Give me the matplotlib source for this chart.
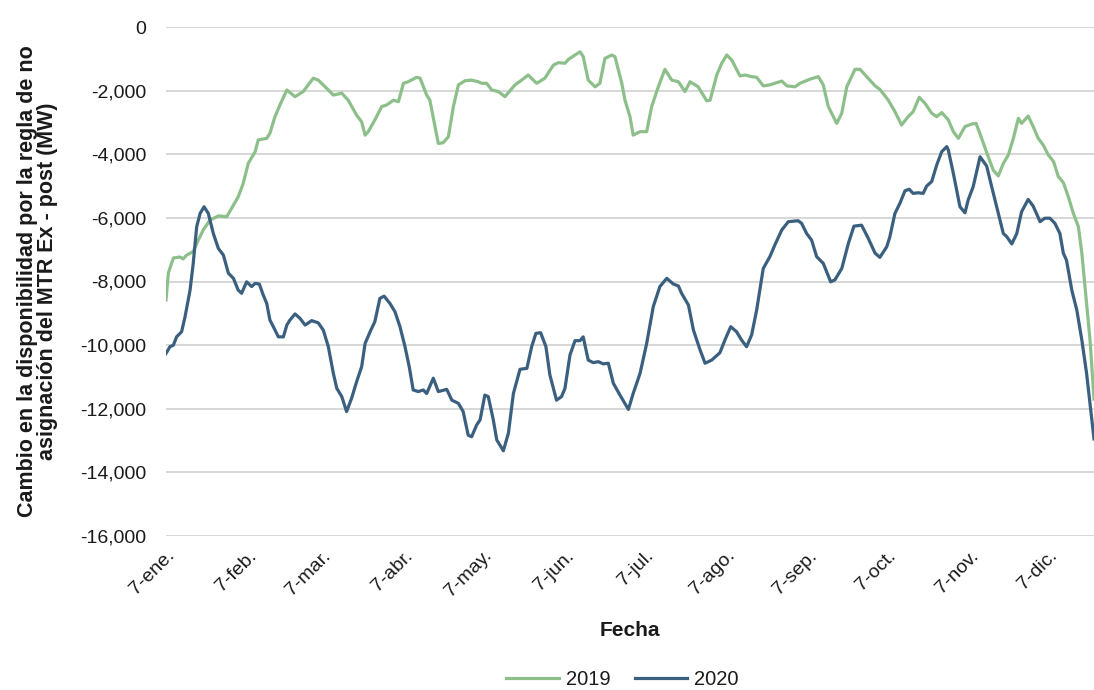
import matplotlib
matplotlib.use("Agg")
import matplotlib.pyplot as plt
from matplotlib.ticker import FuncFormatter, FixedLocator

# Days counted from 7 January
days_2019 = [0, 0.9, 2.8, 5.3, 6.5, 7.8, 10.3, 12.2, 14.1, 16.6, 19.8, 23.0, 24.8, 27.3,
             29.2, 31.1, 33.7, 34.9, 38.1, 39.3, 41.2, 43.1, 45.7, 48.8, 51.9, 55.7, 57.6,
             60.8, 63.3, 66.5, 68.9, 72.1, 74.0, 75.3, 76.5, 79.0, 81.6, 83.5, 86.0, 87.9,
             89.8, 91.6, 94.8, 96.1, 98.6, 99.8, 103.0, 104.8, 106.8, 108.7, 110.6, 113.1,
             115.6, 118.1, 119.4, 121.3, 123.2, 125.7, 128.2, 132.0, 134.5, 137.0, 140.2,
             143.3, 146.5, 148.4, 150.9, 152.2, 154.7, 156.6, 157.8, 159.7, 162.3, 164.1,
             166.0, 168.6, 169.8, 172.4, 173.6, 175.5, 176.7, 179.3, 181.8, 183.7, 186.2,
             188.7, 191.3, 193.8, 196.3, 198.2, 201.3, 204.5, 205.8, 208.3, 210.2, 212.1,
             214.0, 217.1, 219.0, 221.5, 223.4, 225.9, 228.4, 230.3, 232.9, 234.8, 237.9,
             239.8, 243.6, 246.7, 248.6, 250.5, 253.7, 255.6, 257.5, 260.6, 262.5, 265.0,
             268.2, 270.0, 273.2, 275.7, 278.2, 280.7, 282.6, 284.9, 287.1, 289.6, 291.5,
             293.4, 295.9, 297.8, 299.7, 302.2, 304.7, 306.4, 308.5, 311.0, 312.9, 314.8,
             316.7, 318.6, 320.5, 322.4, 323.6, 326.1, 328.0, 329.9, 331.8, 333.7, 335.7,
             337.5, 339.4, 341.3, 343.2, 345.1, 346.4, 347.6, 349.5, 351.0]
mw_2019 = [-8580, -7730, -7260, -7230, -7290, -7170, -7060, -6700, -6380, -6070, -5940, -5960,
           -5700, -5340, -4920, -4290, -3920, -3550, -3500, -3340, -2820, -2450, -1980, -2190,
           -2030, -1610, -1670, -1930, -2140, -2080, -2300, -2770, -2980, -3400, -3290, -2920,
           -2500, -2450, -2300, -2350, -1770, -1720, -1580, -1610, -2140, -2300, -3660, -3640,
           -3450, -2500, -1820, -1690, -1670, -1720, -1770, -1770, -1980, -2030, -2190, -1820,
           -1670, -1510, -1770, -1610, -1200, -1120, -1140, -1020, -880, -780, -930, -1670,
           -1880, -1770, -990, -880, -930, -1770, -2300, -2820, -3400, -3290, -3290, -2500,
           -1880, -1330, -1670, -1720, -2030, -1720, -1880, -2320, -2300, -1510, -1140, -880,
           -1040, -1540, -1510, -1560, -1580, -1850, -1820, -1770, -1700, -1850, -1880, -1770,
           -1640, -1560, -1820, -2500, -3030, -2710, -1880, -1330, -1330, -1560, -1850, -1960,
           -2300, -2660, -3080, -2820, -2660, -2210, -2400, -2710, -2820, -2690, -2920, -3290,
           -3500, -3130, -3050, -3030, -3500, -4080, -4500, -4680, -4290, -4020, -3500, -2870,
           -3030, -2800, -3130, -3500, -3710, -4020, -4230, -4700, -4890, -5340, -5860, -6280,
           -7110, -8160, -9840, -11700]

days_2020 = [0, 1.5, 2.8, 4.0, 5.9, 7.2, 9.1, 10.3, 11.6, 12.9, 14.4, 16.0, 17.9, 19.8, 21.7,
             23.6, 25.5, 27.3, 28.6, 30.5, 32.4, 33.7, 35.3, 36.8, 38.1, 39.3, 40.6, 42.5,
             44.4, 45.7, 46.9, 48.8, 50.7, 52.6, 55.1, 57.6, 59.5, 61.4, 63.3, 64.6, 66.5,
             68.3, 70.2, 72.1, 74.0, 75.3, 77.2, 79.0, 80.9, 82.5, 84.7, 86.6, 88.5, 90.4,
             92.0, 93.5, 95.4, 97.3, 98.6, 101.1, 103.0, 106.2, 108.1, 110.6, 112.4, 114.3,
             115.6, 117.5, 118.8, 120.6, 121.9, 123.8, 125.1, 127.6, 129.5, 131.4, 133.9,
             136.5, 138.3, 139.9, 141.7, 143.7, 145.2, 147.7, 149.6, 150.9, 152.8, 154.7,
             156.6, 157.8, 159.7, 161.6, 163.5, 165.4, 167.3, 169.2, 171.7, 174.9, 176.7,
             179.3, 181.8, 184.3, 186.8, 189.4, 191.9, 193.8, 195.0, 197.6, 199.5, 202.0,
             203.9, 206.4, 209.5, 211.4, 213.6, 215.8, 217.7, 219.6, 221.5, 223.4, 225.9,
             228.4, 230.3, 232.9, 235.4, 239.1, 240.4, 242.3, 244.2, 246.1, 248.6, 251.4,
             253.0, 255.6, 258.1, 260.2, 263.1, 265.6, 268.2, 270.0, 272.6, 273.8, 275.7,
             277.6, 279.5, 281.1, 282.6, 284.5, 286.4, 287.7, 289.6, 291.5, 293.4, 295.3,
             295.9, 297.8, 300.3, 302.2, 303.4, 305.3, 307.9, 310.4, 312.3, 314.8, 316.7,
             318.0, 319.9, 321.8, 323.6, 326.1, 328.0, 330.6, 332.4, 334.3, 336.2, 338.1,
             339.4, 340.6, 342.6, 344.5, 346.4, 348.2, 351.0]
mw_2020 = [-10260, -10050, -10000, -9740, -9580, -9110, -8270, -7430, -6280, -5860, -5650,
           -5860, -6490, -6960, -7170, -7740, -7900, -8270, -8370, -8010, -8160, -8060, -8080,
           -8430, -8690, -9210, -9420, -9740, -9740, -9370, -9210, -9020, -9160, -9370, -9230,
           -9300, -9530, -10050, -10890, -11360, -11620, -12090, -11670, -11150, -10680, -9950,
           -9580, -9260, -8530, -8460, -8690, -8950, -9420, -10050, -10680, -11410, -11460,
           -11410, -11520, -11040, -11460, -11390, -11730, -11830, -12090, -12830, -12880,
           -12510, -12350, -11570, -11620, -12350, -12980, -13320, -12770, -11520, -10760,
           -10730, -10050, -9630, -9610, -10050, -10940, -11730, -11620, -11360, -10310, -9860,
           -9860, -9740, -10470, -10550, -10520, -10590, -10570, -11200, -11570, -12020,
           -11520, -10890, -9950, -8790, -8160, -7900, -8080, -8140, -8370, -8740, -9530,
           -10150, -10570, -10470, -10240, -9840, -9420, -9580, -9840, -10050, -9680, -8900,
           -7590, -7220, -6850, -6380, -6120, -6090, -6170, -6490, -6700, -7220, -7430, -8010,
           -7950, -7590, -6800, -6260, -6230, -6640, -7110, -7240, -6910, -6590, -5860, -5540,
           -5150, -5100, -5230, -5210, -5230, -5000, -4860, -4340, -3920, -3760, -3870, -4600,
           -5650, -5840, -5440, -5020, -4080, -4370, -5020, -5860, -6490, -6590, -6820, -6490,
           -5810, -5420, -5630, -6120, -6010, -6010, -6170, -6490, -7110, -7330, -8270, -8900,
           -9840, -10890, -12950]

# Month ticks on the 7th, as day offsets from 7 January
tick_days = [0, 31, 59, 90, 120, 151, 181, 212, 243, 273, 304, 334]
tick_labels = ["7-ene.", "7-feb.", "7-mar.", "7-abr.", "7-may.", "7-jun.", "7-jul.",
               "7-ago.", "7-sep.", "7-oct.", "7-nov.", "7-dic."]
y_ticks = [0, -2000, -4000, -6000, -8000, -10000, -12000, -14000, -16000]

plt.rcParams["font.family"] = ["Liberation Sans", "DejaVu Sans"]

GREEN = "#8dbf8b"
BLUE = "#3b5f7e"
TEXT = "#1a1a1a"

fig = plt.figure(figsize=(10.94, 6.90), dpi=100)
ax = fig.add_axes([166 / 1094, 1 - 536 / 690, (1094 - 166) / 1094, (536 - 27) / 690])

ax.plot(days_2019, mw_2019, color=GREEN, lw=2.3, label="2019", solid_joinstyle="round")
ax.plot(days_2020, mw_2020, color=BLUE, lw=2.3, label="2020", solid_joinstyle="round")

ax.set_xlim(0, 351)
ax.set_ylim(-16000, 0)
ax.yaxis.set_major_locator(FixedLocator(y_ticks))
ax.yaxis.set_major_formatter(FuncFormatter(lambda v, p: f"{int(v):,}"))
ax.set_xticks(tick_days)
ax.set_xticklabels(tick_labels, rotation=45, ha="right", rotation_mode="anchor")

ax.grid(axis="y", color="#d4d4d4", lw=1.3)
ax.set_axisbelow(True)
for s in ax.spines.values():
    s.set_visible(False)
ax.tick_params(axis="both", length=0, labelsize=14, colors=TEXT)
ax.tick_params(axis="y", pad=14)
ax.tick_params(axis="x", pad=8)

ax.set_xlabel("Fecha", fontsize=15, fontweight="bold", color=TEXT, labelpad=15)
ax.set_ylabel("Cambio en la disponibilidad por la regla de no\nasignación del MTR Ex - post (MW)",
              fontsize=15.5, fontweight="bold", color=TEXT, linespacing=0.95)
ax.yaxis.set_label_coords(-0.116, 0.5)

leg = fig.legend(loc="center", bbox_to_anchor=(0.569, 0.015), ncol=2, frameon=False,
                 fontsize=14.5, handlelength=2.6, columnspacing=1.2, handletextpad=0.35)
for t in leg.get_texts():
    t.set_color(TEXT)

fig.savefig("out.png", dpi=100)
